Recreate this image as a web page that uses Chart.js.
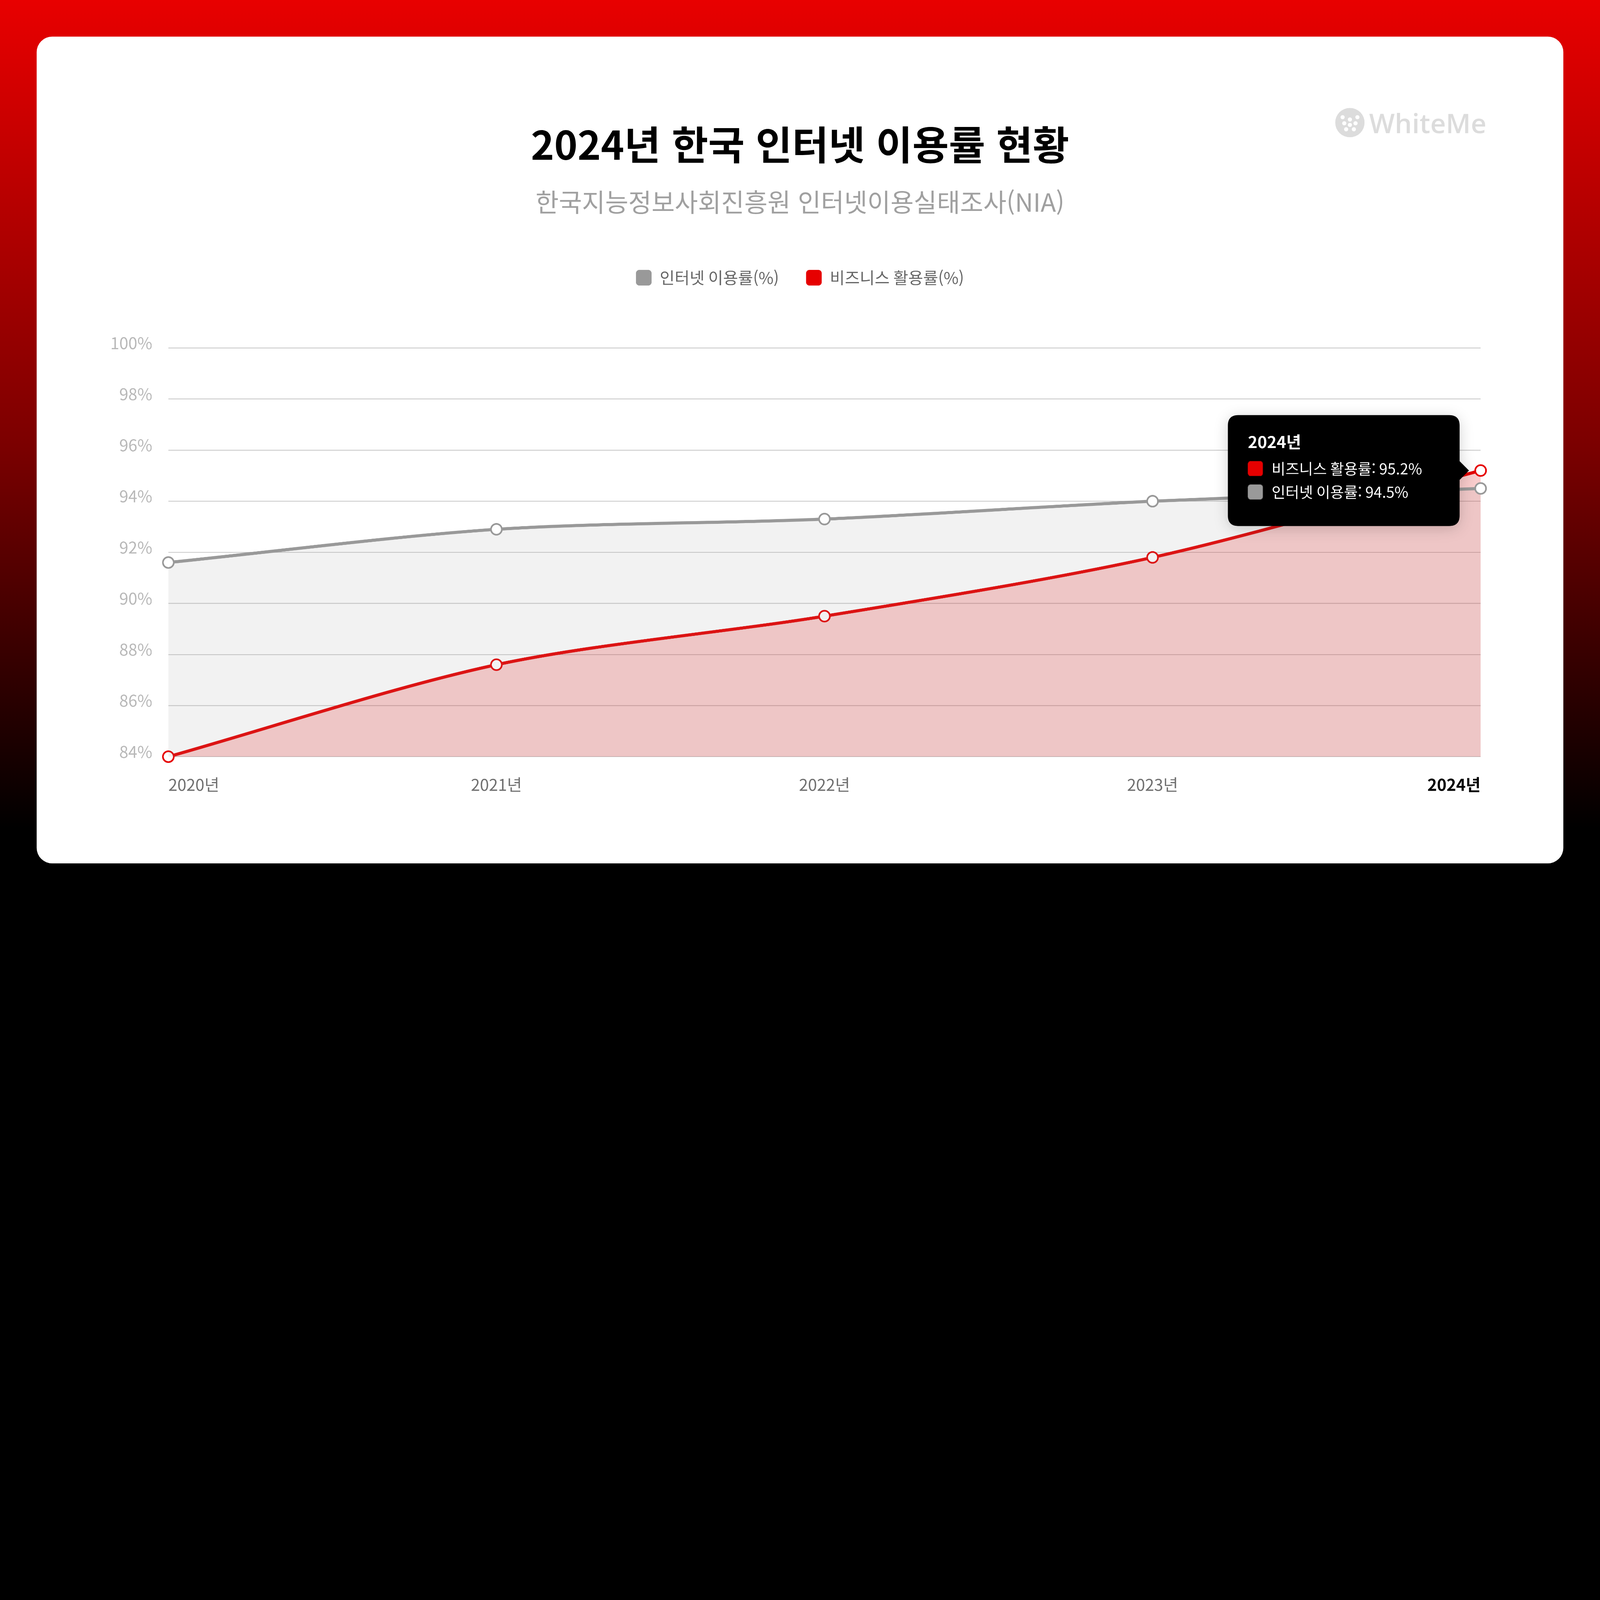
<!DOCTYPE html>
<html lang="ko">
<head>
<meta charset="utf-8">
<title>2024년 한국 인터넷 이용률 현황</title>
<script src="https://cdn.jsdelivr.net/npm/chart.js@4.4.1/dist/chart.umd.min.js"></script>
<style>
  html, body { margin: 0; padding: 0; overflow: hidden; background: #000; }
  #stage {
    position: absolute; left: 0; top: 0;
    width: 7680px; height: 4320px;
    transform-origin: 0 0;
    background: linear-gradient(to bottom, #e80000 0%, #7a0000 50%, #000 92%);
    font-family: "Noto Sans CJK KR", "Noto Sans", sans-serif;
  }
  .card {
    position: absolute; left: 176px; top: 176px;
    width: 7328px; height: 3968px;
    background: #fff; border-radius: 74px;
  }
  .title, .subtitle { position: absolute; left: 0; width: 7680px; text-align: center; }
  .title {
    top: 590px; height: 190px; line-height: 190px;
    font-size: 190px; font-weight: 700; color: #000;
  }
  .subtitle {
    top: 903px; height: 121px; line-height: 121px;
    font-size: 121px; color: #a0a0a0;
  }
  .brand {
    position: absolute; left: 6409px; top: 518px; height: 141px;
    display: flex; align-items: center;
    font-family: "Open Sans", sans-serif; font-weight: 600;
    font-size: 130px; color: #dcdcdc;
  }
  .brand svg { margin-right: 22px; }
  #chart { position: absolute; left: 0; top: 0; }
</style>
</head>
<body>
<div id="stage">
  <div class="card"></div>
  <div class="title">2024년 한국 인터넷 이용률 현황</div>
  <div class="subtitle">한국지능정보사회진흥원 인터넷이용실태조사(NIA)</div>
  <div class="brand">
    <svg width="141" height="141" viewBox="-70.5 -70.5 141 141">
      <circle cx="0" cy="0" r="70.5" fill="#dcdcdc"/>
      <g fill="#fff">
        <circle cx="-35" cy="-26" r="10"/>
        <circle cx="36" cy="-26" r="10"/>
        <circle cx="0" cy="-15" r="10"/>
        <circle cx="-27" cy="3" r="10"/>
        <circle cx="27" cy="3" r="10"/>
        <circle cx="0" cy="11" r="10"/>
        <circle cx="-18" cy="32" r="10"/>
        <circle cx="19" cy="32" r="10"/>
      </g>
    </svg>
    <span>WhiteMe</span>
  </div>
  <canvas id="chart" width="7680" height="4320"></canvas>
</div>

<script>
// 데이터
const years = ["2020년", "2021년", "2022년", "2023년", "2024년"];
const internetRate = [91.6, 92.9, 93.3, 94.0, 94.5];
const businessRate = [84.0, 87.6, 89.5, 91.8, 95.2];
const seriesLabels = ["인터넷 이용률(%)", "비즈니스 활용률(%)"];
const yTicks = [84, 86, 88, 90, 92, 94, 96, 98, 100];

const FONT = "'Noto Sans CJK KR', 'Noto Sans', sans-serif";
const GRAY = "#999999";
const RED = "#e60000";
const ACTIVE = 4; // 툴팁이 떠 있는 연도

// 7680x4320 기준 화면을 창 크기에 맞춤
function fitStage() {
  const s = Math.min(window.innerWidth / 7680, window.innerHeight / 4320);
  document.getElementById("stage").style.transform = "scale(" + s + ")";
}

// 범례 아래 여백 확보 + 범례를 화면 가운데로
const legendSpacer = {
  id: "legendSpacer",
  beforeInit(chart) {
    const origFit = chart.legend.fit;
    chart.legend.fit = function () {
      origFit.call(this);
      this.height = 506;
    };
  },
  afterLayout(chart) {
    chart.legend.left = 0;
    chart.legend.right = chart.width;
  }
};

// 툴팁 그림자
const tooltipShadow = {
  id: "tooltipShadow",
  beforeTooltipDraw(chart) {
    const c = chart.ctx;
    c.save();
    c.shadowColor = "rgba(0,0,0,0.18)";
    c.shadowBlur = 70;
    c.shadowOffsetY = 12;
  },
  afterTooltipDraw(chart) {
    chart.ctx.restore();
  }
};

// 가장 위에 있는 점 옆에 툴팁 배치
Chart.Tooltip.positioners.highest = function (items) {
  if (!items.length) return false;
  let el = items[0].element;
  items.forEach(i => { if (i.element.y < el.y) el = i.element; });
  return { x: el.x, y: el.y, xAlign: "right", yAlign: "center" };
};

function createChart() {
  fitStage();
  const ctx = document.getElementById("chart").getContext("2d");

  const chart = new Chart(ctx, {
    type: "line",
    data: {
      labels: years,
      datasets: [
        {
          label: seriesLabels[0],
          data: internetRate,
          borderColor: GRAY,
          backgroundColor: "rgba(153,153,153,0.13)",
          fill: "start",
          borderWidth: 15,
          tension: 0.3,
          pointRadius: 26,
          pointHoverRadius: 26,
          pointBorderWidth: 8,
          pointHoverBorderWidth: 8,
          pointBackgroundColor: "#fff",
          pointHoverBackgroundColor: "#fff",
          pointBorderColor: GRAY,
          pointHoverBorderColor: GRAY,
          clip: false
        },
        {
          label: seriesLabels[1],
          data: businessRate,
          borderColor: RED,
          backgroundColor: "rgba(230,0,0,0.2)",
          fill: "start",
          borderWidth: 15,
          tension: 0.3,
          pointRadius: 26,
          pointHoverRadius: 26,
          pointBorderWidth: 8,
          pointHoverBorderWidth: 8,
          pointBackgroundColor: "#fff",
          pointHoverBackgroundColor: "#fff",
          pointBorderColor: RED,
          pointHoverBorderColor: RED,
          clip: false
        }
      ]
    },
    options: {
      responsive: false,
      devicePixelRatio: 1,
      animation: false,
      events: [],
      layout: {
        padding: { left: 176, right: 573, top: 1164, bottom: 488 }
      },
      interaction: { mode: "index", intersect: false },
      plugins: {
        legend: {
          position: "top",
          labels: {
            font: { family: FONT, size: 78 },
            color: "#666",
            boxWidth: 75,
            boxHeight: 75,
            padding: 130,
            useBorderRadius: true,
            borderRadius: 16,
            generateLabels(chart) {
              const items = Chart.defaults.plugins.legend.labels.generateLabels(chart);
              return items.map(it => {
                it.fillStyle = it.strokeStyle;
                it.lineWidth = 0;
                return it;
              });
            }
          }
        },
        tooltip: {
          position: "highest",
          xAlign: "right",
          yAlign: "center",
          backgroundColor: "#000",
          titleColor: "#fff",
          bodyColor: "#fff",
          titleFont: { family: FONT, size: 78, weight: "bold" },
          bodyFont: { family: FONT, size: 72 },
          padding: { top: 82, bottom: 120, left: 96, right: 180 },
          cornerRadius: 50,
          caretSize: 45,
          caretPadding: 56,
          boxWidth: 72,
          boxHeight: 72,
          boxPadding: 40,
          titleMarginBottom: 38,
          bodySpacing: 26,
          multiKeyBackground: "rgba(0,0,0,0)",
          itemSort: (a, b) => b.parsed.y - a.parsed.y,
          callbacks: {
            label: c => c.dataset.label.replace("(%)", "") + ": " + c.parsed.y + "%",
            labelColor: c => ({
              borderColor: c.dataset.borderColor,
              backgroundColor: c.dataset.borderColor,
              borderWidth: 1,
              borderRadius: 12
            })
          }
        }
      },
      scales: {
        x: {
          grid: { display: false },
          border: { display: false },
          afterFit(scale) { scale.height = 200; },
          ticks: {
            align: "inner",
            padding: 80,
            maxRotation: 0,
            autoSkip: false,
            color: c => (c.index === ACTIVE ? "#000" : "#707070"),
            font: c => ({ family: FONT, size: 78, weight: c.index === ACTIVE ? "bold" : "normal" })
          }
        },
        y: {
          min: yTicks[0],
          max: yTicks[yTicks.length - 1],
          afterFit(scale) { scale.width = 632; },
          afterBuildTicks(scale) { scale.ticks = yTicks.map(v => ({ value: v })); },
          grid: { color: "#cbcbcb", lineWidth: 4, drawTicks: false },
          border: { display: false },
          ticks: {
            padding: 77,
            labelOffset: -24,
            color: "#b8b8b8",
            font: { family: FONT, size: 78 },
            callback: v => v + "%"
          }
        }
      }
    },
    plugins: [legendSpacer, tooltipShadow]
  });

  const active = [{ datasetIndex: 1, index: ACTIVE }, { datasetIndex: 0, index: ACTIVE }];
  chart.setActiveElements(active);
  chart.tooltip.setActiveElements(active, { x: 0, y: 0 });
  chart.update();
}

window.addEventListener("DOMContentLoaded", createChart);
</script>
</body>
</html>
